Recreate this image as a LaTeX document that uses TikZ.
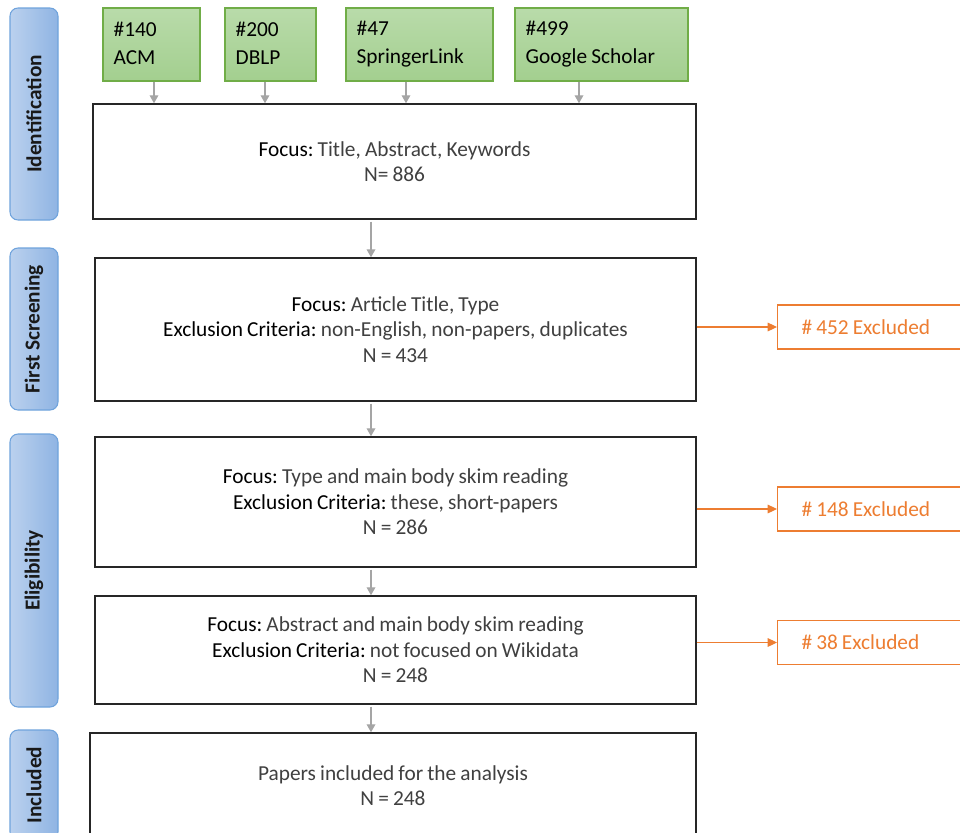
\documentclass[tikz,border=0pt]{standalone}
\usepackage{fontspec}
\setmainfont{Carlito}[WordSpace={0.85,0,0}]
\frenchspacing
\usetikzlibrary{calc,arrows.meta}
\definecolor{txtgray}{HTML}{404040}
\definecolor{grnborder}{HTML}{70AD47}
\definecolor{grntop}{HTML}{B9DBAA}
\definecolor{grnbot}{HTML}{A3CF8F}
\definecolor{blueborder}{HTML}{6FA3DC}
\definecolor{blueleft}{HTML}{BBD1EE}
\definecolor{blueright}{HTML}{8FB4E3}
\definecolor{orng}{HTML}{ED7D31}
\definecolor{arrgray}{HTML}{A5A5A5}
\begin{document}
\begin{tikzpicture}[x=0.75pt,y=-0.75pt,
  font=\fontsize{16pt}{19.2pt}\selectfont,
  srcbox/.style={draw=grnborder, line width=0.9pt, top color=grntop, bottom color=grnbot,
    minimum height=54.75pt, align=flush left, text width=#1, inner xsep=8pt, inner ysep=0pt,
    font=\fontsize{16pt}{21pt}\selectfont},
  stagebox/.style={draw=black!85, line width=1.1pt, fill=white, align=center, text=txtgray,
    inner sep=0pt},
  sidebar/.style={draw=blueborder, line width=0.8pt, left color=blueleft, right color=blueright,
    rounded corners=6pt, minimum width=36pt, inner sep=0pt},
  sidelabel/.style={rotate=90, font=\fontsize{16pt}{18pt}\selectfont\bfseries, text=black!90},
  exbox/.style={draw=orng, line width=0.8pt, fill=white, text=orng, anchor=west,
    minimum width=167pt, minimum height=33pt, align=flush left, text width=140pt, inner xsep=18pt,
    font=\fontsize{16pt}{19pt}\selectfont},
  garrow/.style={draw=arrgray, line width=1pt, -{Triangle[length=6pt,width=6.5pt]}},
  oarrow/.style={draw=orng, line width=0.8pt, -{Triangle[length=7pt,width=6.5pt]}}
]
\useasboundingbox (0,0) rectangle (960,832);
\clip (0,0) rectangle (960,832);

% side bars
\node[sidebar, minimum height=159pt] (b1) at (34,114) {};
\node[sidelabel] (b1t) at (b1.center) {Identification};
\node[sidebar, minimum height=121.5pt] (b2) at (34,329) {};
\node[sidelabel] (b2t) at (b2.center) {First Screening};
\node[sidebar, minimum height=204.75pt] (b3) at (34,570.5) {};
\node[sidelabel] (b3t) at (b3.center) {Eligibility};
\node[sidebar, minimum height=82.5pt] (b4) at (34,785) {};
\node[sidelabel] (b4t) at (b4.center) {Included};

% source boxes
\node[srcbox=56.75pt] (acm) at (151.5,44.5) {\raisebox{1.5pt}{\#140}\\\raisebox{1.5pt}{ACM}};
\node[srcbox=52.25pt] (dblp) at (270.5,44.5) {\raisebox{1.5pt}{\#200}\\\raisebox{1.5pt}{DBLP}};
\node[srcbox=94.25pt] (spr) at (419.5,44.5) {\raisebox{1.5pt}{\#47}\\\raisebox{1.5pt}{SpringerLink}};
\node[srcbox=113.75pt] (gs) at (601.5,44.5) {\raisebox{1.5pt}{\#499}\\\raisebox{1.5pt}{Google Scholar}};

% stage boxes
\node[stagebox, minimum width=452.25pt, minimum height=86.25pt] (id) at (394.5,161.5)
  {{\color{black}Focus:} Title, Abstract, Keywords\\N= 886};
\node[stagebox, minimum width=450.75pt, minimum height=107.25pt] (fs) at (395.5,329.5)
  {{\color{black}Focus:} Article Title, Type\\{\color{black}Exclusion Criteria:} non-English, non-papers, duplicates\\N = 434};
\node[stagebox, minimum width=450.75pt, minimum height=97.5pt] (el1) at (395.5,502)
  {{\color{black}Focus:} Type and main body skim reading\\{\color{black}Exclusion Criteria:} these, short-papers\\N = 286};
\node[stagebox, minimum width=450.75pt, minimum height=81pt] (el2) at (395.5,650)
  {{\color{black}Focus:} Abstract and main body skim reading\\{\color{black}Exclusion Criteria:} not focused on Wikidata\\N = 248};
\node[stagebox, minimum width=454.5pt, minimum height=78.75pt] (inc) at (393,785.5)
  {Papers included for the analysis\\N = 248};

% excluded boxes
\node[exbox] (ex1) at (777,327) {\# 452 Excluded};
\node[exbox] (ex2) at (777,509) {\# 148 Excluded};
\node[exbox] (ex3) at (777,642.5) {\# 38 Excluded};

% arrow guide coordinates
\coordinate (a1) at (154,0);
\coordinate (a2) at (265,0);
\coordinate (a3) at (406,0);
\coordinate (a4) at (579,0);
\coordinate (cx) at (371,0);

\draw[garrow] (acm.south -| a1) -- (id.north -| a1);
\draw[garrow] (dblp.south -| a2) -- (id.north -| a2);
\draw[garrow] (spr.south -| a3) -- (id.north -| a3);
\draw[garrow] (gs.south -| a4) -- (id.north -| a4);

\draw[garrow] ([yshift=-1.5pt]id.south -| cx) -- (fs.north -| cx);
\draw[garrow] ([yshift=-1.5pt]fs.south -| cx) -- (el1.north -| cx);
\draw[garrow] ([yshift=-1.5pt]el1.south -| cx) -- (el2.north -| cx);
\draw[garrow] ([yshift=-1.5pt]el2.south -| cx) -- (inc.north -| cx);

\draw[oarrow] (fs.east |- ex1.west) -- (ex1.west);
\draw[oarrow] (el1.east |- ex2.west) -- (ex2.west);
\draw[oarrow] (el2.east |- ex3.west) -- (ex3.west);
\end{tikzpicture}
\end{document}
